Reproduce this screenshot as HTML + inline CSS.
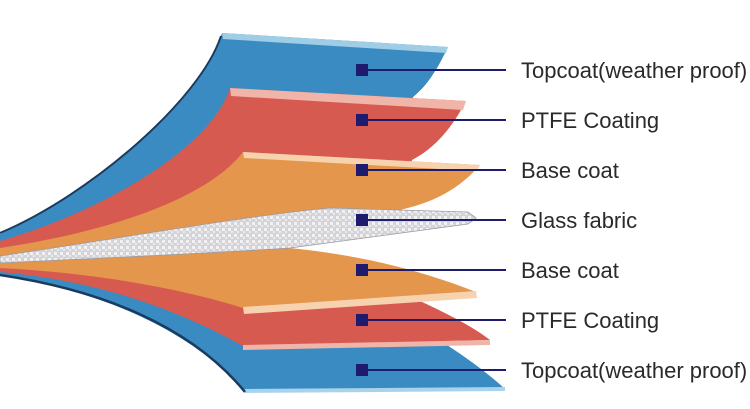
<!DOCTYPE html>
<html><head><meta charset="utf-8"><style>
html,body{margin:0;padding:0;background:#fff;}
svg{display:block;}
text{font-family:"Liberation Sans",sans-serif;font-size:22px;fill:#2a2a2a;}
</style></head><body>
<svg width="750" height="409" viewBox="0 0 750 409" xmlns="http://www.w3.org/2000/svg">
<defs>
<pattern id="gl" width="6" height="6" patternUnits="userSpaceOnUse">
<rect width="6" height="6" fill="#d4d4d8"/>
<rect x="0" y="0" width="3" height="3" fill="#f2f2f4"/>
<rect x="3" y="3" width="2" height="2" fill="#ececef"/>
</pattern>
</defs>
<!-- top blue -->
<path d="M222,33 L448,47 C438,68 428,85 413,97 L400,215 L0,262 L0,234 C90,195 200,100 222,33 Z" fill="#3a8bc2"/>
<path d="M222,33 L448,47 L446,53 L223,39 Z" fill="#9fcde6"/>
<path d="M221,36 C200,100 90,195 0,233" stroke="#1b3b5e" stroke-width="2" fill="none"/>
<!-- top red -->
<path d="M230,88 L466,101 C452,128 435,148 412,160 L400,215 L0,262 L0,241 C100,212 210,150 230,88 Z" fill="#d65a50"/>
<path d="M230,88 L466,101 L463,110 L231,96 Z" fill="#f0b5a8"/>
<!-- top orange -->
<path d="M243,152 L480,165 C460,188 435,203 395,211 L330,209 L0,262 L0,248 C120,230 210,195 243,152 Z" fill="#e4964c"/>
<path d="M243,152 L480,165 L477,171 L244,158 Z" fill="#f6d3ae"/>
<!-- bottom blue -->
<path d="M0,266 L420,300 L447,345 C470,360 490,375 505,389 L245,391 C190,330 100,290 0,276 Z" fill="#3a8bc2"/>
<path d="M245,389 L505,387 L505,391 L245,393 Z" fill="#a9d3ea"/>
<path d="M0,275 C100,290 190,325 245,392" stroke="#1b3b5e" stroke-width="2.5" fill="none"/>
<!-- bottom red -->
<path d="M0,264 L422,302 C450,315 475,328 490,340 L243,346 C170,305 90,280 0,272 Z" fill="#d65a50"/>
<path d="M243,345 L490,340 L490,345 L243,350 Z" fill="#f0b5a8"/>
<!-- bottom orange -->
<path d="M0,262 L290,248 C360,255 420,270 476,292 L243,308 C170,285 80,272 0,268 Z" fill="#e4964c"/>
<path d="M243,307 L476,291 L477,298 L244,314 Z" fill="#f6d3ae"/>
<!-- glass -->
<path d="M0,256 C110,240 250,215 330,208 L468,212 L476,218 L468,224 L290,248 C200,254 100,258 0,263 Z" fill="url(#gl)" stroke="#9a9aa0" stroke-width="0.8"/>
<!-- connectors -->
<g fill="#1e1a6e">
<rect x="356" y="64" width="12" height="12"/><rect x="356" y="114" width="12" height="12"/>
<rect x="356" y="164" width="12" height="12"/><rect x="356" y="214" width="12" height="12"/>
<rect x="356" y="264" width="12" height="12"/><rect x="356" y="314" width="12" height="12"/>
<rect x="356" y="364" width="12" height="12"/>
</g>
<g stroke="#1e1a6e" stroke-width="2">
<line x1="366" y1="70" x2="506" y2="70"/><line x1="366" y1="120" x2="506" y2="120"/>
<line x1="366" y1="170" x2="506" y2="170"/><line x1="366" y1="220" x2="506" y2="220"/>
<line x1="366" y1="270" x2="506" y2="270"/><line x1="366" y1="320" x2="506" y2="320"/>
<line x1="366" y1="370" x2="506" y2="370"/>
</g>
<text x="521" y="78">Topcoat(weather proof)</text>
<text x="521" y="128">PTFE Coating</text>
<text x="521" y="178">Base coat</text>
<text x="521" y="228">Glass fabric</text>
<text x="521" y="278">Base  coat</text>
<text x="521" y="328">PTFE Coating</text>
<text x="521" y="378">Topcoat(weather proof)</text>
</svg>
</body></html>
